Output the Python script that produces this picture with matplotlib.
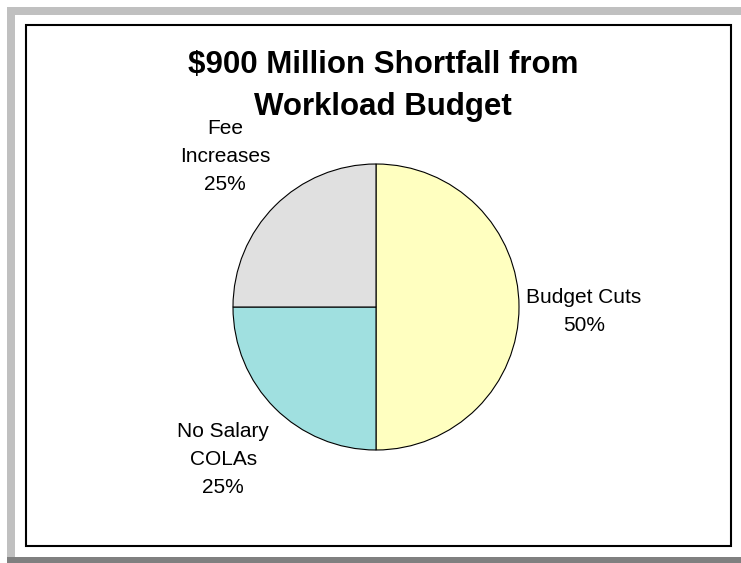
import matplotlib
matplotlib.use("Agg")
import matplotlib.pyplot as plt
from matplotlib.patches import Rectangle
import numpy as np

categories = ["Budget Cuts", "No Salary\nCOLAs", "Fee\nIncreases"]
values = [50, 25, 25]
colors = ["#FFFFC0", "#A0E0E0", "#E0E0E0"]
title = "$900 Million Shortfall from\nWorkload Budget"

W, H = 741, 563
dpi = 100
fig = plt.figure(figsize=(W / dpi, H / dpi), dpi=dpi)
plt.rcParams['font.family'] = ['Liberation Sans', 'DejaVu Sans']

def fx(x):
    return x / W

def fy(y):
    return 1 - y / H

# outer decorative frame
fig.patches.append(Rectangle((fx(7), fy(15)), fx(741 - 7), 8 / H, transform=fig.transFigure,
                             facecolor="#C0C0C0", edgecolor="none"))
fig.patches.append(Rectangle((fx(7), fy(557)), 8 / W, (557 - 7) / H, transform=fig.transFigure,
                             facecolor="#C0C0C0", edgecolor="none"))
fig.patches.append(Rectangle((fx(7), 0), fx(741 - 7), 6 / H, transform=fig.transFigure,
                             facecolor="#808080", edgecolor="none"))
# inner chart border
fig.patches.append(Rectangle((fx(26), fy(546)), fx(731 - 26), (546 - 25) / H, transform=fig.transFigure,
                             facecolor="none", edgecolor="black", linewidth=1.5))

# pie axes: center (376,307), radius 143 px
cx, cy, r = 376, 307, 143
ax = fig.add_axes([fx(cx - r), fy(cy + r), 2 * r / W, 2 * r / H])
wedges, _ = ax.pie(values, colors=colors, startangle=90, counterclock=False,
                   wedgeprops=dict(edgecolor="black", linewidth=0.8), radius=1.0)
ax.set_xlim(-1, 1)
ax.set_ylim(-1, 1)
ax.set_aspect("equal")
ax.axis("off")

label_dist = [1.455, 1.51, 1.49]
total = sum(values)
for w, cat, v, d in zip(wedges, categories, values, label_dist):
    ang = np.deg2rad((w.theta1 + w.theta2) / 2)
    x, y = d * np.cos(ang), d * np.sin(ang)
    if abs(y) < 0.1:
        y -= 0.03
    ax.text(x, y, f"{cat}\n{v / total * 100:.0f}%", ha="center", va="center",
            fontsize=15, linespacing=1.6, clip_on=False)

fig.text(fx(383), fy(86), title, ha="center", va="center", fontsize=22.5,
         fontweight="bold", linespacing=1.55)

fig.savefig("out.png", dpi=dpi)
